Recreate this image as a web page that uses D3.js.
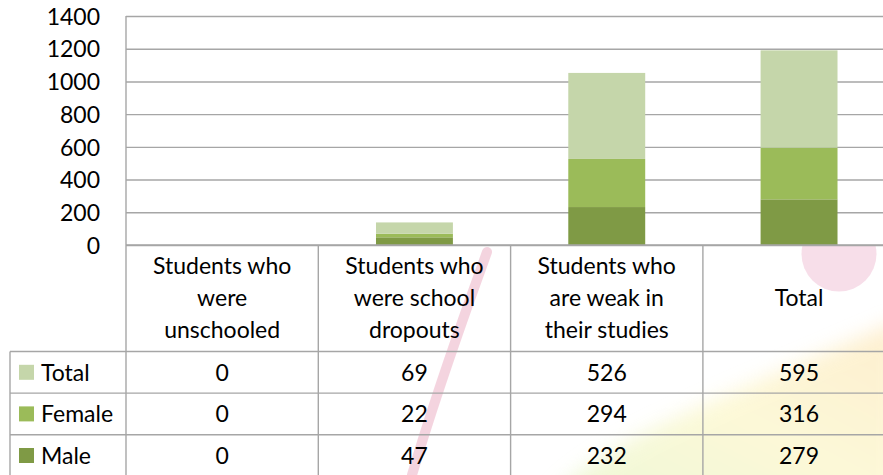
<!DOCTYPE html>
<html>
<head>
<meta charset="utf-8">
<script src="https://cdn.jsdelivr.net/npm/d3@7"></script>
<style>
  html, body { margin: 0; padding: 0; background: #fff; }
  svg text { font-family: Lato, "Open Sans", sans-serif; fill: #000; }
</style>
</head>
<body>
<script>
// chart data
const categoryLines = [
    ["Students who", "were", "unschooled"],
    ["Students who", "were school", "dropouts"],
    ["Students who", "are weak in", "their studies"],
    ["Total"]
]
const categories = ["unschooled", "dropouts", "weak", "total"]
const seriesNames = ["Male", "Female", "Total"]
const maleValues = [0, 47, 232, 279]
const femaleValues = [0, 22, 294, 316]
const totalValues = [0, 69, 526, 595]
const yTicks = [0, 200, 400, 600, 800, 1000, 1200, 1400]

const colors = { Male: "#7f9a45", Female: "#9bbb59", Total: "#c5d6aa" }

const svgWidth = 883
const svgHeight = 475
const plotLeft = 126
const plotTop = 16
const plotBottom = 245
const colWidth = 192.3
const plotRight = plotLeft + colWidth * categories.length
const headerBottom = 351.5
const rowHeight = 41.6
const tableLeft = 10
const gridColor = "#a6a6a6"

const svg = d3.select("body").append("svg")
    .attr("width", svgWidth)
    .attr("height", svgHeight)

svg.append("rect").attr("width", svgWidth).attr("height", svgHeight).attr("fill", "#fff")

/* faint watermark behind the table */
const defs = svg.append("defs")
defs.append("filter").attr("id", "soft").attr("x", "-20%").attr("y", "-20%").attr("width", "140%").attr("height", "140%")
    .append("feGaussianBlur").attr("stdDeviation", 10)
const grad = defs.append("linearGradient").attr("id", "wm").attr("x1", "0").attr("y1", "1").attr("x2", "1").attr("y2", "0")
grad.append("stop").attr("offset", "0").attr("stop-color", "#dff3b8")
grad.append("stop").attr("offset", "0.5").attr("stop-color", "#fbf4b8")
grad.append("stop").attr("offset", "1").attr("stop-color", "#fde0a8")
defs.append("clipPath").attr("id", "tableClip")
    .append("rect").attr("x", 0).attr("y", plotBottom + 1).attr("width", svgWidth).attr("height", svgHeight)

const wm = svg.append("g").attr("clip-path", "url(#tableClip)")
wm.append("path")
    .attr("d", "M550,500 C600,440 720,400 900,320 L900,500 Z")
    .attr("fill", "url(#wm)").attr("opacity", 0.55)
    .attr("filter", "url(#soft)")
wm.append("circle").attr("cx", 839).attr("cy", 254).attr("r", 37.5)
    .attr("fill", "#f2c8da").attr("opacity", 0.6)
wm.append("path")
    .attr("d", "M487,252 C470,300 440,380 412,475")
    .attr("fill", "none").attr("stroke", "#e9aac0").attr("stroke-width", 10)
    .attr("stroke-linecap", "round").attr("opacity", 0.5)

/* scales */
const xScale = d3.scaleBand()
    .domain(categories)
    .range([plotLeft, plotRight])
    .padding(0)

const yScale = d3.scaleLinear()
    .domain([0, 1400])
    .range([plotBottom, plotTop])

/* gridlines + y labels */
const yAxis = d3.axisLeft(yScale)
    .tickValues(yTicks)
    .tickSize(-(plotRight - plotLeft))
    .tickPadding(26)
    .tickFormat(d3.format("d"))

const yAxisG = svg.append("g")
    .attr("transform", `translate(${plotLeft}, 0)`)
    .call(yAxis)
yAxisG.select(".domain").remove()
yAxisG.selectAll("line").attr("stroke", gridColor).attr("stroke-width", 1.4)
yAxisG.selectAll("text")
    .style("font-size", "23px")
    .attr("fill", "#000")
    .attr("dy", "0.36em")

svg.append("line")
    .attr("x1", plotLeft).attr("x2", plotLeft)
    .attr("y1", plotTop).attr("y2", svgHeight)
    .attr("stroke", gridColor).attr("stroke-width", 1.4)

/* stacked bars */
const rows = categories.map((c, i) => ({
    category: c,
    Male: maleValues[i],
    Female: femaleValues[i],
    Total: totalValues[i]
}))
const stacked = d3.stack().keys(seriesNames)(rows)
const barWidth = xScale.bandwidth() * 0.4

svg.append("g").selectAll("g")
    .data(stacked)
    .enter()
    .append("g")
    .attr("fill", (d) => colors[d.key])
    .selectAll("rect")
    .data((d) => d)
    .enter()
    .append("rect")
    .attr("x", (d) => xScale(d.data.category) + (xScale.bandwidth() - barWidth) / 2)
    .attr("width", barWidth)
    .attr("y", (d) => yScale(d[1]))
    .attr("height", (d) => yScale(d[0]) - yScale(d[1]))

/* data table */
const table = svg.append("g")
const rowOrder = ["Total", "Female", "Male"]
const tableValues = { Total: totalValues, Female: femaleValues, Male: maleValues }
const tableBottom = headerBottom + rowHeight * rowOrder.length

// horizontal lines
table.append("line")
    .attr("x1", plotLeft).attr("x2", plotRight)
    .attr("y1", plotBottom).attr("y2", plotBottom)
    .attr("stroke", gridColor).attr("stroke-width", 1.4)
d3.range(rowOrder.length + 1).forEach((i) => {
    const y = headerBottom + i * rowHeight
    table.append("line")
        .attr("x1", tableLeft).attr("x2", plotRight)
        .attr("y1", y).attr("y2", y)
        .attr("stroke", gridColor).attr("stroke-width", 1.4)
})
// vertical lines
categories.forEach((c, i) => {
    const x = xScale(c) + xScale.bandwidth()
    table.append("line")
        .attr("x1", x).attr("x2", x)
        .attr("y1", plotBottom).attr("y2", tableBottom)
        .attr("stroke", gridColor).attr("stroke-width", 1.4)
})
table.append("line")
    .attr("x1", tableLeft).attr("x2", tableLeft)
    .attr("y1", headerBottom).attr("y2", tableBottom)
    .attr("stroke", gridColor).attr("stroke-width", 1.4)

// header labels
const lineGap = 32
categories.forEach((c, i) => {
    const lines = categoryLines[i]
    const cx = xScale(c) + xScale.bandwidth() / 2
    const midY = (plotBottom + headerBottom) / 2
    const firstBase = midY + 8 - (lines.length - 1) * lineGap / 2
    const t = table.append("text")
        .attr("text-anchor", "middle")
        .style("font-size", "23px")
    lines.forEach((ln, j) => {
        t.append("tspan")
            .attr("x", cx)
            .attr("y", firstBase + j * lineGap)
            .text(ln)
    })
})

// rows
rowOrder.forEach((name, r) => {
    const midY = headerBottom + r * rowHeight + rowHeight / 2
    table.append("rect")
        .attr("x", 19).attr("y", midY - 7.5)
        .attr("width", 15).attr("height", 15)
        .attr("fill", colors[name])
    table.append("text")
        .attr("x", 41).attr("y", midY + 8.5)
        .style("font-size", "23px")
        .text(name)
    tableValues[name].forEach((v, i) => {
        table.append("text")
            .attr("x", xScale(categories[i]) + xScale.bandwidth() / 2)
            .attr("y", midY + 8.5)
            .attr("text-anchor", "middle")
            .style("font-size", "23px")
            .text(v)
    })
})
</script>
</body>
</html>
